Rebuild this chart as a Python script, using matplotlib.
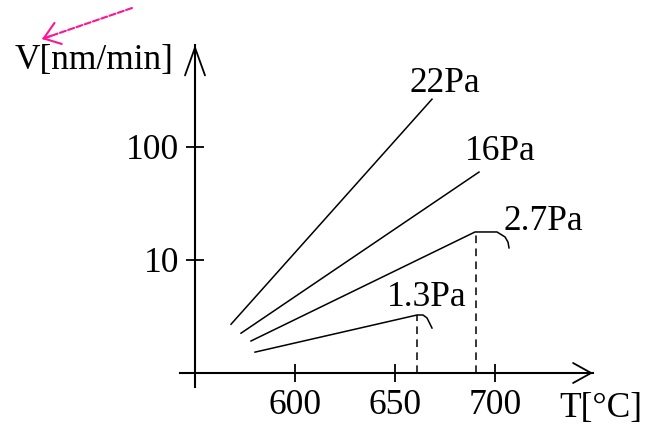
import matplotlib
matplotlib.use("Agg")
import matplotlib.pyplot as plt

plt.rcParams['font.family'] = ['Liberation Serif', 'DejaVu Serif']

# Deposition rate V [nm/min] against temperature T [degC] for several pressures
t_22 = [568, 668.5]
v_22 = [2.7, 265]

t_16 = [573, 692]
v_16 = [2.25, 60]

t_27 = [578, 690, 701, 705, 706.5, 707]
v_27 = [1.92, 17.7, 17.7, 16.0, 14.4, 12.8]

t_13 = [580, 661, 664, 666, 668.5]
v_13 = [1.53, 3.26, 3.26, 3.07, 2.5]

# temperatures of the rate maxima (dashed drop lines)
t_peak = [661, 690.5]
v_peak = [3.26, 17.7]

pressure_labels = ["22Pa", "16Pa", "2.7Pa", "1.3Pa"]
label_t = [657.5, 685, 704.5, 646]
label_v = [307, 76.7, 18.4, 3.92]

x_ticks = [600, 650, 700]
y_ticks = [10, 100]
y_tick_labels = ["10", "100"]

FS = 25.5
fig = plt.figure(figsize=(6.46, 4.26), dpi=100)
ax = fig.add_axes([0, 0, 1, 1])
ax.set_xlim(452.5, 775.5)
ax.set_yscale('log')
ax.set_ylim(0.3396, 1999)
ax.patch.set_alpha(0)

# axes drawn through the origin (550 degC, 1 nm/min)
for s in ('top', 'right'):
    ax.spines[s].set_visible(False)
ax.spines['left'].set_position(('data', 550))
ax.spines['bottom'].set_position(('data', 1))
ax.spines['left'].set_bounds(0.752, 800)
ax.spines['bottom'].set_bounds(542.5, 749)
for s in ('left', 'bottom'):
    ax.spines[s].set_linewidth(1.5)

ax.set_xticks(x_ticks)
ax.set_xticklabels([str(t) for t in x_ticks])
ax.set_yticks(y_ticks)
ax.set_yticklabels(y_tick_labels)
ax.minorticks_off()
ax.tick_params(direction='inout', length=12.5, width=1.3, labelsize=FS,
               color='black')
ax.tick_params(axis='y', pad=5)
ax.tick_params(axis='x', pad=5)

# arrow heads on the axes
ax.annotate('', xy=(550, 800), xytext=(550, 400),
            arrowprops=dict(arrowstyle='->,head_length=1.0,head_width=0.36',
                            lw=1.3, color='black', shrinkA=0, shrinkB=0,
                            mutation_scale=20))
ax.annotate('', xy=(749, 1), xytext=(720, 1),
            arrowprops=dict(arrowstyle='->,head_length=0.65,head_width=0.36',
                            lw=1.3, color='black', shrinkA=0, shrinkB=0,
                            mutation_scale=20))

lw = 1.1
ax.plot(t_22, v_22, color='black', lw=lw)
ax.plot(t_16, v_16, color='black', lw=lw)
ax.plot(t_27, v_27, color='black', lw=lw)
ax.plot(t_13, v_13, color='black', lw=lw)

for t, v in zip(t_peak, v_peak):
    ax.plot([t, t], [1, v], color='black', lw=1.1, ls=(0, (5, 3.5)))

for txt, t, v in zip(pressure_labels, label_t, label_v):
    ax.text(t, v, txt, fontsize=FS, ha='left', va='baseline')

ax.text(94 / 646, 1 - 60 / 426, "V[nm/min]", transform=ax.transAxes,
        fontsize=FS, ha='center', va='center')
ax.text(600.5 / 646, 1 - 408 / 426, "T[°C]", transform=ax.transAxes,
        fontsize=FS, ha='center', va='center')

# pink pointer at the top left: dashed shaft, solid open head
pink = '#ff1493'
tip = (42, 426 - 39)
tail = (132, 426 - 8)
ax.annotate('', xy=tip, xycoords='figure pixels',
            xytext=tail, textcoords='figure pixels',
            arrowprops=dict(arrowstyle='-', lw=1.5, color=pink,
                            ls=(0, (3, 1.2)), shrinkA=0, shrinkB=0))
ax.annotate('', xy=tip, xycoords='figure pixels',
            xytext=(tip[0] + 9, tip[1] + 3.1), textcoords='figure pixels',
            arrowprops=dict(arrowstyle='->,head_length=0.55,head_width=0.4',
                            lw=1.5, color=pink, shrinkA=0, shrinkB=0,
                            mutation_scale=20))

fig.savefig('out.png', dpi=100)
